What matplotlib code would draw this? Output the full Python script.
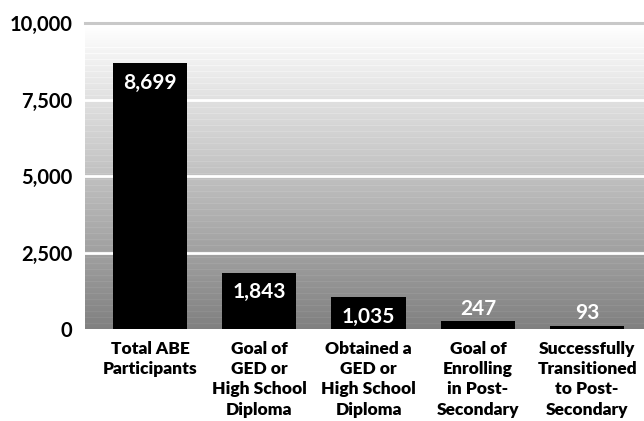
import numpy as np
import matplotlib
matplotlib.use('Agg')
import matplotlib.pyplot as plt

categories = [
    'Total ABE\nParticipants',
    'Goal of\nGED or\nHigh School\nDiploma',
    'Obtained a\nGED or\nHigh School\nDiploma',
    'Goal of\nEnrolling\nin Post-\nSecondary',
    'Successfully\nTransitioned\nto Post-\nSecondary',
]
values = [8699, 1843, 1035, 247, 93]
yticks = [0, 2500, 5000, 7500, 10000]

fig = plt.figure(figsize=(6.44, 4.21), dpi=100)
ax = fig.add_axes([85 / 644, 1 - 329 / 421, 559 / 644, 306 / 421])

# background gradient with faint stripes
rows = 306
grad = np.linspace(255, 128, rows)
stripe = np.zeros(rows)
stripe[::6] = 7
img = np.clip(grad + stripe * (np.arange(rows) > 20), 0, 255) / 255.0
img = np.repeat(img[:, None], 2, axis=1)
ax.imshow(img, cmap='gray', vmin=0, vmax=1, aspect='auto',
          extent=[-0.6, 4.6, 0, 10000], zorder=0, interpolation='nearest')

x = np.arange(len(values))
ax.bar(x, values, width=0.68, color='black', zorder=3)

for yv in yticks[1:-1]:
    ax.axhline(yv, color='white', lw=2, zorder=2)
ax.axhline(10000, color='#c8c8c8', lw=2.2, zorder=2, clip_on=False)

for xi, v in zip(x, values):
    label = f'{v:,}'
    if v > 500:
        ax.annotate(label, (xi, v), xytext=(0, -7), textcoords='offset points',
                    ha='center', va='top', color='white', fontsize=15,
                    fontweight='bold', family='Lato', zorder=4)
    else:
        ax.annotate(label, (xi, v), xytext=(0, 2), textcoords='offset points',
                    ha='center', va='bottom', color='white', fontsize=15,
                    fontweight='bold', family='Lato', zorder=4)

ax.set_xlim(-0.595, 4.52)
ax.set_ylim(0, 10000)
ax.set_yticks(yticks)
ax.set_yticklabels([f'{t:,}' for t in yticks], fontsize=14.5,
                   fontweight='bold', family='Lato')
ax.set_xticks(x)
ax.set_xticklabels(categories, fontsize=12.5, fontweight='heavy',
                   family='Lato', linespacing=1.33, va='top')
ax.tick_params(axis='both', length=0)
ax.tick_params(axis='y', pad=9)
ax.tick_params(axis='x', pad=8.5)
for s in ax.spines.values():
    s.set_visible(False)

fig.savefig('out.png', dpi=100)
